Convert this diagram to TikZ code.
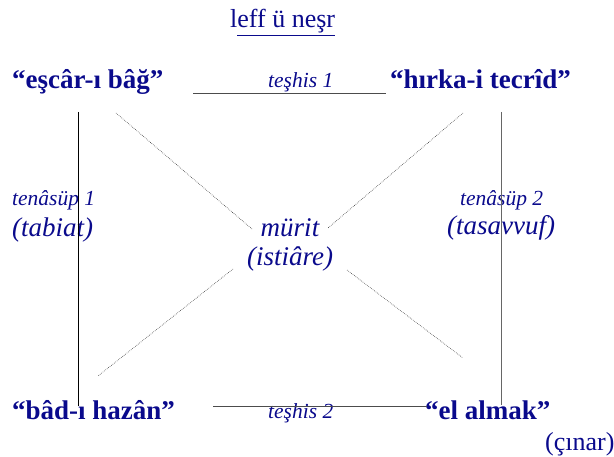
\documentclass[tikz,border=0pt]{standalone}
\usepackage{fontspec}
\setmainfont{Liberation Serif}
\definecolor{ink}{HTML}{0A0A8C}
\begin{document}
\begin{tikzpicture}[x=1pt,y=-1pt,
  lbl/.style={text=ink,inner sep=0pt,anchor=base west,font=\fontsize{27}{30}\selectfont\bfseries},
  sm/.style={text=ink,inner sep=0pt,anchor=base west,font=\fontsize{21.5}{24}\selectfont\itshape},
  md/.style={text=ink,inner sep=0pt,anchor=base,font=\fontsize{27}{30}\selectfont\itshape},
  rg/.style={text=ink,inner sep=0pt,anchor=base west,font=\fontsize{26}{30}\selectfont},
  dots/.style={draw=black!80,line width=0.6pt,dash pattern=on 0.6pt off 1.2pt},
  solid line/.style={draw=black,line width=0.8pt}]
\useasboundingbox (0,0) rectangle (614,457);
% title
\node[rg] (title) at (230,28) {l\underline{eff ü neşr}};
% corners
\node[lbl] (tl) at (12,89) {“eşcâr-ı bâğ”};
\node[lbl] (tr) at (390,89) {“hırka-i tecrîd”};
\node[lbl] (bl) at (12,420) {“bâd-ı hazân”};
\node[lbl] (br) at (425,420) {“el almak”};
\node[rg] (cinar) at (545,450) {(çınar)};
% middle labels
\node[sm] (t1) at (268,88) {teşhis 1};
\node[sm] (t2) at (268,419) {teşhis 2};
\node[sm] (n1) at (12,206) {tenâsüp 1};
\node[md,anchor=base west] (n1b) at (12,237) {(tabiat)};
\node[sm] (n2) at (460,206) {tenâsüp 2};
\node[md,anchor=base west] (n2b) at (447,235) {(tasavvuf)};
\node[md] (mu) at (290,237) {mürit};
\node[md] (ist) at (290,266) {(istiâre)};
% line end points
\coordinate (h1a) at (193,94); \coordinate (h1b) at (386,94);
\coordinate (h2a) at (213,407); \coordinate (h2b) at (427,407);
\coordinate (v1a) at (78,112); \coordinate (v1b) at (78,406);
\coordinate (v2a) at (501,112); \coordinate (v2b) at (501,405);
\coordinate (d1a) at (116,113); \coordinate (d1b) at (252,229);
\coordinate (d2a) at (463,113); \coordinate (d2b) at (328,228);
\coordinate (d3a) at (233,269); \coordinate (d3b) at (98,376);
\coordinate (d4a) at (347,270); \coordinate (d4b) at (463,358);
\draw[draw=black!70,line width=1pt] (h1a) -- (h1b);
\draw[draw=black!70,line width=1pt] (h2a) -- (h2b);
\draw[solid line] (v1a) -- (v1b);
\draw[draw=black!60,line width=0.8pt] (v2a) -- (v2b);
\draw[dots] (d1a) -- (d1b);
\draw[dots] (d2a) -- (d2b);
\draw[dots] (d3a) -- (d3b);
\draw[dots] (d4a) -- (d4b);
\end{tikzpicture}
\end{document}
